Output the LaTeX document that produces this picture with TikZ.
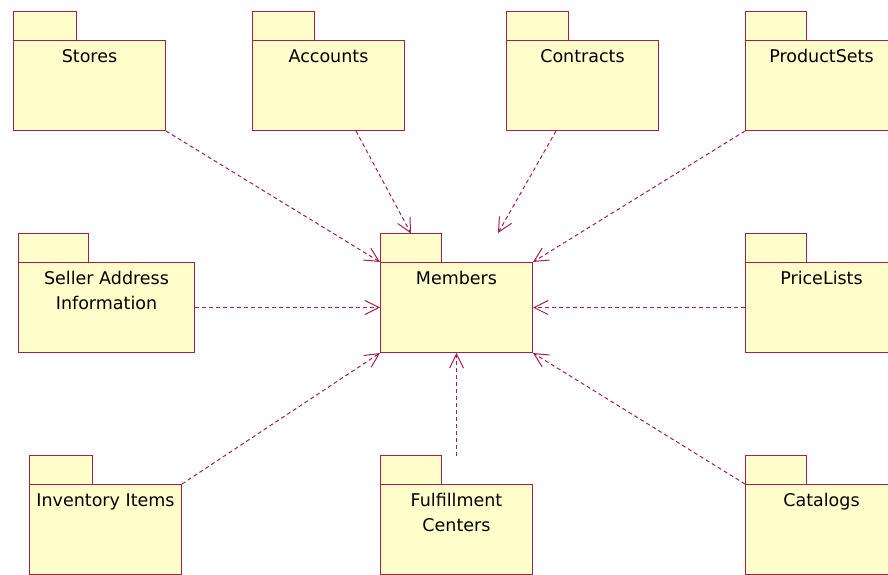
\documentclass[tikz,border=0pt]{standalone}
\usepackage{fontspec}
\setmainfont{DejaVu Sans}
\usetikzlibrary{arrows.meta, calc, backgrounds}
\definecolor{rosered}{HTML}{A3204C}
\definecolor{roseyellow}{HTML}{FFFFCC}
\tikzset{
  every picture/.style={x=1pt, y=-1pt, line width=1pt},
  pkg/.style={draw=rosered, fill=roseyellow, anchor=north west, minimum width=152pt, minimum height=90pt, inner sep=0pt},
  pkgtitle/.style={anchor=north, yshift=-9pt, align=center, inner sep=0pt, font=\fontsize{17.5}{25}\selectfont},
  pkgtab/.style={draw=rosered, fill=roseyellow},
  dep/.style={draw=rosered, dash pattern=on 4pt off 3pt, -{Straight Barb[length=14pt, width=14pt]}},
}

\begin{document}
\begin{tikzpicture}
  \useasboundingbox (0,0) rectangle (888,575);
  \clip (0,0) rectangle (888,575);
  % top row
  \node[pkg, label={[pkgtitle]north:Stores}] (stores) at (13,40) {};
  \node[pkg, label={[pkgtitle]north:Accounts}] (accounts) at (252,40) {};
  \node[pkg, label={[pkgtitle]north:Contracts}] (contracts) at (506,40) {};
  \node[pkg, label={[pkgtitle]north:ProductSets}] (productsets) at (745,40) {};
  % middle row
  \node[pkg, minimum width=176pt, label={[pkgtitle]north:Seller Address\\Information}] (seller) at (18,262) {};
  \node[pkg, label={[pkgtitle]north:Members}] (members) at (380,262) {};
  \node[pkg, label={[pkgtitle]north:PriceLists}] (pricelists) at (745,262) {};
  % bottom row
  \node[pkg, label={[pkgtitle]north:Inventory Items}] (inventory) at (29,484) {};
  \node[pkg, label={[pkgtitle]north:Fulfillment\\Centers}] (fulfillment) at (380,484) {};
  \node[pkg, label={[pkgtitle]north:Catalogs}] (catalogs) at (745,484) {};
  % tabs
  \begin{scope}[on background layer]
    \foreach \n/\w in {stores/63, accounts/62, contracts/62, productsets/61, seller/70,
                       members/61, pricelists/61, inventory/63, fulfillment/61, catalogs/61}
      \draw[pkgtab] (\n.north west) rectangle ++(\w,-28.5);
  \end{scope}
  \coordinate (mtab) at ($(members.north west)+(31,-28.5)$);
  \coordinate (mtop) at ($(members.north west)+(118,-29)$);
  \coordinate (acc) at ($(accounts.south west)+(104,0)$);
  \coordinate (con) at ($(contracts.south west)+(50,0)$);
  \coordinate (ful) at ($(fulfillment.north)+(0,-28)$);
  % dependencies
  \draw[dep] (stores.south east) -- (members.north west);
  \draw[dep] (acc) -- (mtab);
  \draw[dep] (con) -- (mtop);
  \draw[dep] (productsets.south west) -- (members.north east);
  \draw[dep] (seller.east) -- (members.west);
  \draw[dep] (pricelists.west) -- (members.east);
  \draw[dep] (inventory.north east) -- (members.south west);
  \draw[dep] (ful) -- (members.south);
  \draw[dep] (catalogs.north west) -- (members.south east);
\end{tikzpicture}
\end{document}
